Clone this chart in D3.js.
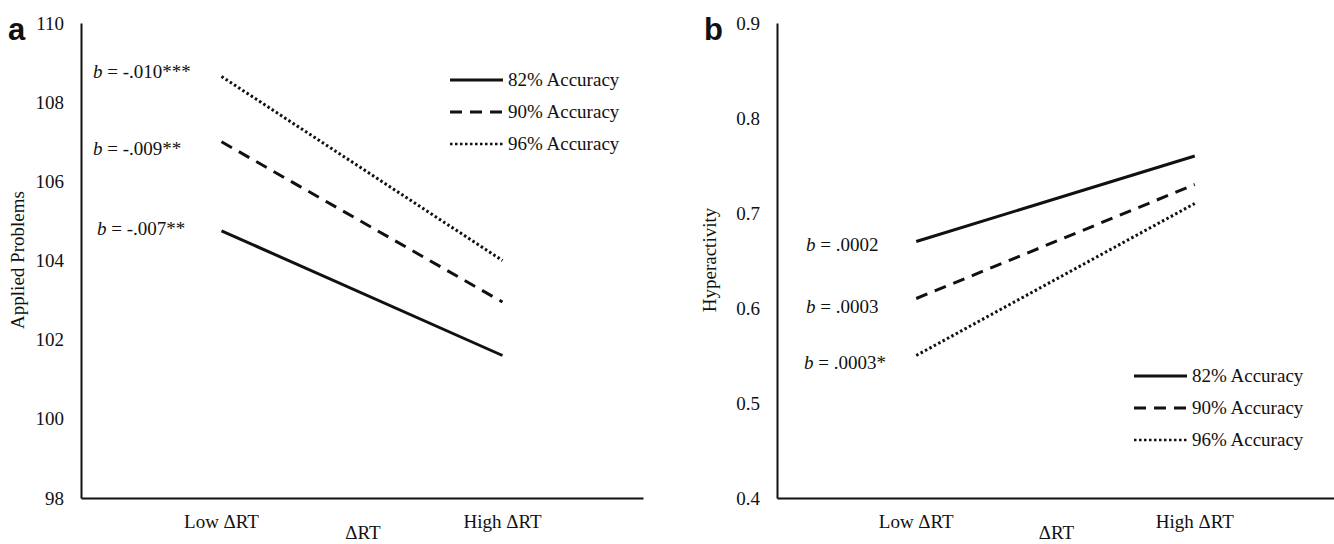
<!DOCTYPE html>
<html>
<head>
<meta charset="UTF-8">
<script src="https://d3js.org/d3.v7.min.js"></script>
<style>
  body { margin: 0; background: #fff; }
  text { font-family: "Liberation Serif", "Times New Roman", serif; fill: #111; }
</style>
</head>
<body>
<div id="chart"></div>
<script>
// categories and series
const categories = ["Low \u0394RT", "High \u0394RT"];
const seriesNames = ["82% Accuracy", "90% Accuracy", "96% Accuracy"];
const dashes = [null, "12,8", "2.5,2.5"];

// panel a - Applied Problems
const appliedLow = [104.75, 107.0, 108.65];
const appliedHigh = [101.6, 102.95, 104.0];
const appliedTicks = [98, 100, 102, 104, 106, 108, 110];
const appliedNotes = ["-.007**", "-.009**", "-.010***"];

// panel b - Hyperactivity
const hyperLow = [0.67, 0.61, 0.55];
const hyperHigh = [0.76, 0.73, 0.71];
const hyperTicks = [0.4, 0.5, 0.6, 0.7, 0.8, 0.9];
const hyperNotes = [".0002", ".0003", ".0003*"];

const width = 1334, height = 544;
const svg = d3.select("#chart").append("svg")
  .attr("width", width).attr("height", height);

function panel({letter, x0, x1, yDomain, ticks, fmt, low, high, notes, noteX, noteDy, yTitle, yTitleX, legendX, legendY}) {
  const top = 23, bottom = 498;
  const x = d3.scaleBand().domain(categories).range([x0, x1]);
  const y = d3.scaleLinear().domain(yDomain).range([bottom, top]);
  const g = svg.append("g");

  // y axis
  const ya = g.append("g").attr("transform", `translate(${x0},0)`)
    .call(d3.axisLeft(y).tickValues(ticks).tickFormat(fmt).tickSize(0).tickPadding(17));
  ya.select(".domain").attr("stroke", "#111").attr("stroke-width", 2);
  ya.selectAll("text").style("font-size", "19px").attr("font-family", null);

  // x axis
  const xa = g.append("g").attr("transform", `translate(0,${bottom})`)
    .call(d3.axisBottom(x).tickSize(0).tickPadding(17));
  xa.select(".domain").attr("stroke", "#111").attr("stroke-width", 2);
  xa.selectAll("text").style("font-size", "19px").attr("font-family", null);

  // titles
  g.append("text").attr("x", (x0 + x1) / 2 + 1).attr("y", 539)
    .attr("text-anchor", "middle").style("font-size", "19px").text("\u0394RT");
  g.append("text").attr("transform", `translate(${yTitleX},260) rotate(-90)`)
    .attr("text-anchor", "middle").style("font-size", "19px").text(yTitle);
  g.append("text").attr("x", x0 - 73).attr("y", 40)
    .style("font-family", "'Liberation Sans', Arial, sans-serif")
    .style("font-weight", "bold").style("font-size", "31px").text(letter);

  // lines
  const line = d3.line().x(d => x(d[0]) + x.bandwidth() / 2).y(d => y(d[1]));
  seriesNames.forEach((s, i) => {
    g.append("path")
      .datum([[categories[0], low[i]], [categories[1], high[i]]])
      .attr("d", line)
      .attr("fill", "none").attr("stroke", "#111")
      .attr("stroke-width", 3)
      .attr("stroke-dasharray", dashes[i]);

    // slope annotation
    const t = g.append("text")
      .attr("x", noteX[i]).attr("y", y(low[i]) + noteDy[i])
      .style("font-size", "19px");
    t.append("tspan").style("font-style", "italic").text("b");
    t.append("tspan").text(" = " + notes[i]);
  });

  // legend
  seriesNames.forEach((s, i) => {
    const ly = legendY + i * 32;
    g.append("line").attr("x1", legendX).attr("x2", legendX + 53)
      .attr("y1", ly).attr("y2", ly)
      .attr("stroke", "#111").attr("stroke-width", i === 2 ? 2.5 : 3)
      .attr("stroke-dasharray", dashes[i]);
    g.append("text").attr("x", legendX + 58).attr("y", ly + 6)
      .style("font-size", "19px").text(s);
  });
}

panel({
  letter: "a", x0: 81, x1: 643, yDomain: [98, 110], ticks: appliedTicks,
  fmt: d3.format("d"), low: appliedLow, high: appliedHigh, notes: appliedNotes,
  noteX: [97, 93, 93], noteDy: [4, 13, 2], yTitle: "Applied Problems", yTitleX: 24,
  legendX: 450, legendY: 80
});

panel({
  letter: "b", x0: 777, x1: 1334, yDomain: [0.4, 0.9], ticks: hyperTicks,
  fmt: d3.format(".1f"), low: hyperLow, high: hyperHigh, notes: hyperNotes,
  noteX: [806, 806, 804], noteDy: [9, 14, 13], yTitle: "Hyperactivity", yTitleX: 716,
  legendX: 1134, legendY: 376
});
</script>
</body>
</html>
